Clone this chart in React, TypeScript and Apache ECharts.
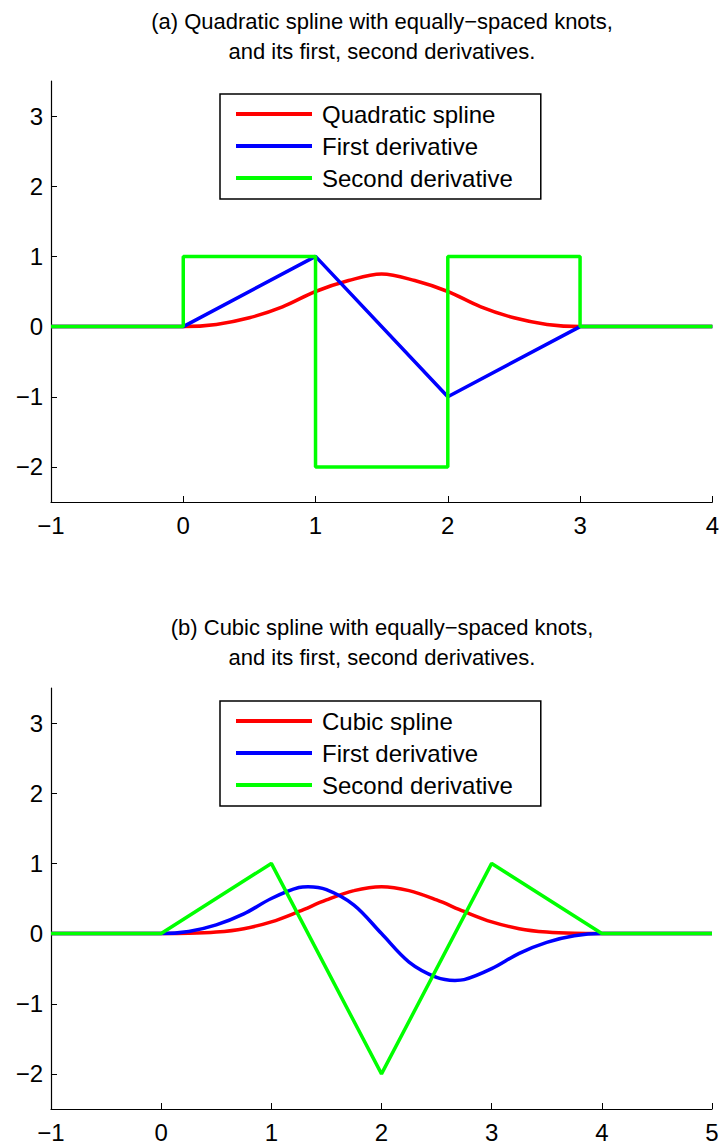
import React, { useEffect, useRef } from "react";
import * as echarts from "echarts";

// ---- Data ----
// (a) quadratic spline, knots 0..3
const quadX = [-1, 0, 0.25, 0.5, 0.75, 1, 1.25, 1.5, 1.75, 2, 2.25, 2.5, 2.75, 3, 4];
const quadY = [0, 0, 0.031, 0.125, 0.281, 0.5, 0.656, 0.75, 0.656, 0.5, 0.281, 0.125, 0.031, 0, 0];
const quadD1X = [-1, 0, 1, 2, 3, 4];
const quadD1Y = [0, 0, 1, -1, 0, 0];
const quadD2X = [-1, 0, 0, 1, 1, 2, 2, 3, 3, 4];
const quadD2Y = [0, 0, 1, 1, -2, -2, 1, 1, 0, 0];

// (b) cubic spline, knots 0..4
const cubX = [-1, 0, 0.25, 0.5, 0.75, 1, 1.25, 1.5, 1.75, 2, 2.25, 2.5, 2.75, 3, 3.25, 3.5, 3.75, 4, 5];
const cubY = [0, 0, 0.003, 0.021, 0.07, 0.167, 0.315, 0.479, 0.612, 0.667, 0.612, 0.479, 0.315, 0.167, 0.07, 0.021, 0.003, 0, 0];
const cubD1X = [-1, 0, 0.25, 0.5, 0.75, 1, 1.25, 1.333, 1.5, 1.75, 2, 2.25, 2.5, 2.667, 2.75, 3, 3.25, 3.5, 3.75, 4, 5];
const cubD1Y = [0, 0, 0.031, 0.125, 0.281, 0.5, 0.656, 0.667, 0.625, 0.406, 0, -0.406, -0.625, -0.667, -0.656, -0.5, -0.281, -0.125, -0.031, 0, 0];
const cubD2X = [-1, 0, 1, 2, 3, 4, 5];
const cubD2Y = [0, 0, 1, -2, 1, 0, 0];

const yTicks = [-2, -1, 0, 1, 2, 3];
const titleA = ["(a) Quadratic spline with equally\u2212spaced knots,", "and its first, second derivatives."];
const titleB = ["(b) Cubic spline with equally\u2212spaced knots,", "and its first, second derivatives."];
const legendA = ["Quadratic spline", "First derivative", "Second derivative"];
const legendB = ["Cubic spline", "First derivative", "Second derivative"];

const RED = "#ff0000";
const BLUE = "#0000ff";
const GREEN = "#00ff00";
const FONT = "Liberation Sans, Arial, Helvetica, sans-serif";

const pairs = (xs: number[], ys: number[]) => xs.map((x, i) => [x, ys[i]]);
const fmt = (v: number) => (v < 0 ? "\u2212" + Math.abs(v) : String(v));

export default function App() {
  const ref = useRef<HTMLDivElement>(null);
  useEffect(() => {
    if (!ref.current) return;
    const chart = echarts.init(ref.current, undefined, { renderer: "svg" });

    const xAxisBase = (min: number, max: number, idx: number) => ({
      type: "value",
      gridIndex: idx,
      min,
      max,
      interval: 1,
      splitLine: { show: false },
      axisLine: { show: true, onZero: false, lineStyle: { color: "#000", width: 1.2 } },
      axisTick: { show: true, inside: true, length: 6, lineStyle: { color: "#000", width: 1 } },
      axisLabel: { color: "#000", fontSize: 24, fontFamily: FONT, margin: 11, formatter: fmt },
    });
    const yAxisBase = (idx: number) => ({
      type: "value",
      gridIndex: idx,
      min: -2.5,
      max: 3.5,
      splitLine: { show: false },
      axisLine: { show: true, onZero: false, lineStyle: { color: "#000", width: 1.2 } },
      axisTick: { show: true, inside: true, length: 6, customValues: yTicks, lineStyle: { color: "#000", width: 1 } },
      axisLabel: {
        color: "#000",
        fontSize: 24,
        fontFamily: FONT,
        margin: 8,
        customValues: yTicks,
        formatter: fmt,
      },
    });

    const line = (name: string, data: number[][], color: string, idx: number, smooth: boolean) => ({
      type: "line",
      name,
      xAxisIndex: idx,
      yAxisIndex: idx,
      data,
      smooth: smooth ? 0.35 : false,
      showSymbol: false,
      symbol: "none",
      lineStyle: { color, width: 3.5 },
      itemStyle: { color },
      silent: true,
    });

    const legendBase = (names: string[], top: number) => ({
      data: names,
      orient: "vertical",
      left: 220,
      top,
      icon: "rect",
      itemWidth: 76,
      itemHeight: 4,
      itemGap: 0,
      padding: [4, 28, 5, 16],
      borderColor: "#000",
      borderWidth: 1.5,
      backgroundColor: "#fff",
      selectedMode: false,
      textStyle: { color: "#000", fontSize: 24, fontFamily: FONT, lineHeight: 32, padding: [0, 0, 0, 5] },
    });

    const titleText = (text: string, y: number) => ({
      type: "text",
      x: 382,
      y,
      style: { text, fill: "#000", font: `22px ${FONT}`, textAlign: "center", textVerticalAlign: "middle" },
    });

    chart.setOption({
      animation: false,
      backgroundColor: "#fff",
      grid: [
        { left: 51, top: 81, width: 662, height: 421 },
        { left: 51, top: 688, width: 661, height: 421 },
      ],
      xAxis: [xAxisBase(-1, 4, 0), xAxisBase(-1, 5, 1)],
      yAxis: [yAxisBase(0), yAxisBase(1)],
      legend: [legendBase(legendA, 94), legendBase(legendB, 701)],
      series: [
        line("Quadratic spline", pairs(quadX, quadY), RED, 0, true),
        line("First derivative", pairs(quadD1X, quadD1Y), BLUE, 0, false),
        line("Second derivative", pairs(quadD2X, quadD2Y), GREEN, 0, false),
        line("Cubic spline", pairs(cubX, cubY), RED, 1, true),
        line("First derivative", pairs(cubD1X, cubD1Y), BLUE, 1, true),
        line("Second derivative", pairs(cubD2X, cubD2Y), GREEN, 1, false),
      ],
      graphic: [
        titleText(titleA[0], 21),
        titleText(titleA[1], 51),
        titleText(titleB[0], 627),
        titleText(titleB[1], 657),
      ],
    });
    return () => chart.dispose();
  }, []);
  return <div ref={ref} style={{ position: "absolute", left: 0, top: 0, width: 722, height: 1146 }} />;
}
